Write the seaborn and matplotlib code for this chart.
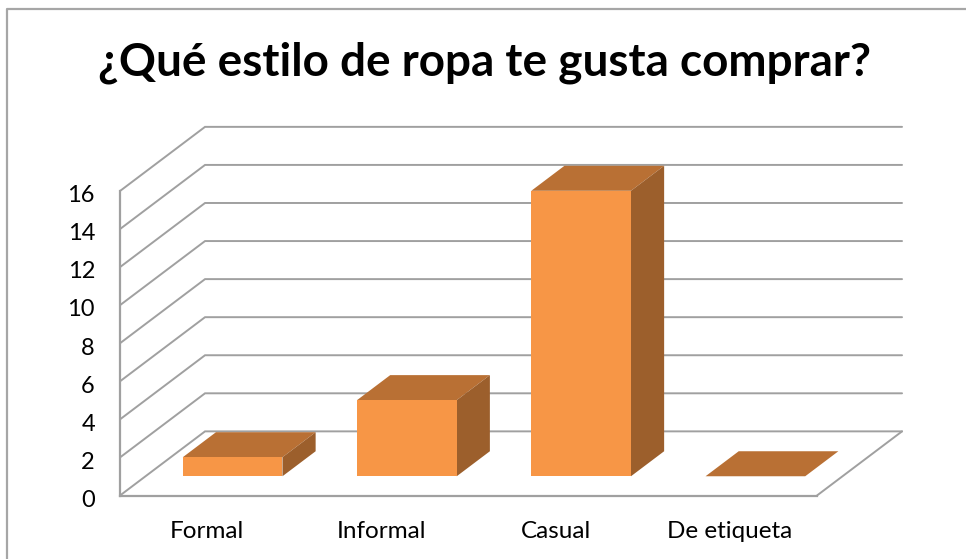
import matplotlib
matplotlib.use("Agg")
import matplotlib.pyplot as plt
from matplotlib.lines import Line2D
from matplotlib.patches import Polygon
from matplotlib.transforms import ScaledTranslation
import pandas as pd
import seaborn as sns

categories = ["Formal", "Informal", "Casual", "De etiqueta"]
values = [1, 4, 15, 0]
y_ticks = [0, 2, 4, 6, 8, 10, 12, 14, 16]
title = "¿Qué estilo de ropa te gusta comprar?"

FRONT = "#F79646"
TOP = "#B97034"
SIDE = "#9C5F2C"
GRID = "#A0A0A0"
FRAME = "#A6A6A6"
W, H = 966, 559

sns.set_theme(style="white")
plt.rcParams["font.family"] = ["Lato", "DejaVu Sans"]

fig = plt.figure(figsize=(W / 100, H / 100), dpi=100)
# axes box = front face of the fake 3D box, in pixels
ax = fig.add_axes([120 / W, 1 - 495.5 / H, 697 / W, 304.5 / H])

df = pd.DataFrame({"estilo": categories, "n": values})
sns.barplot(data=df, x="estilo", y="n", color=FRONT, saturation=1, width=0.572, ax=ax, clip_on=False, zorder=4, linewidth=0, edgecolor="none")
ax.set_xlim(-0.5, 3.5)
ax.set_ylim(0, 16)

# depth of the box in data units
wall_dx = 0.488
wall_dy = 3.37
bar_start = 0.30
bar_depth = 0.39

# back wall and left wall gridlines
for v in y_ticks:
    ax.plot([-0.5, -0.5 + wall_dx, 3.5 + wall_dx], [v, v + wall_dy, v + wall_dy], color=GRID, lw=1.4, clip_on=False, zorder=1, solid_joinstyle="miter")
ax.plot([3.5, 3.5 + wall_dx], [0, wall_dy], color=GRID, lw=1.4, clip_on=False, zorder=1)

# shift the front faces back, then add top and side faces
for bar, val in zip(ax.patches, values):
    bar.set_x(bar.get_x() + bar_start * wall_dx)
    bar.set_y(bar_start * wall_dy)
    x0 = bar.get_x()
    x1 = x0 + bar.get_width()
    y0 = bar.get_y()
    y1 = y0 + val
    dx = bar_depth * wall_dx
    dy = bar_depth * wall_dy
    ax.add_patch(Polygon([(x0, y1), (x1, y1), (x1 + dx, y1 + dy), (x0 + dx, y1 + dy)], color=TOP, lw=0, clip_on=False, zorder=3))
    if val > 0:
        ax.add_patch(Polygon([(x1, y0), (x1 + dx, y0 + dy), (x1 + dx, y1 + dy), (x1, y1)], color=SIDE, lw=0, clip_on=False, zorder=3))

sns.despine(ax=ax, top=True, right=True)
for side in ["left", "bottom"]:
    ax.spines[side].set_color(GRID)
    ax.spines[side].set_linewidth(1.6)
ax.patch.set_alpha(0)
ax.set_xlabel("")
ax.set_ylabel("")
ax.set_yticks(y_ticks)
ax.tick_params(axis="y", length=0, pad=18, labelsize=17, labelcolor="black")
ax.tick_params(axis="x", length=0, pad=18, labelsize=17.5, labelcolor="black")
# digits sit a little below their gridline in the reference
for lab in ax.get_yticklabels():
    lab.set_transform(lab.get_transform() + ScaledTranslation(0, -2 / 72, fig.dpi_scale_trans))

fig.text(484 / W, 1 - 75 / H, title, ha="center", va="baseline", fontsize=33, fontweight="bold", color="black")

# chart frame, only left and top fall inside the crop
fig.add_artist(Line2D([7 / W, 7 / W, 1], [0, 1 - 9 / H, 1 - 9 / H], color=FRAME, lw=1.6, transform=fig.transFigure))

fig.savefig("out.png", dpi=100)
